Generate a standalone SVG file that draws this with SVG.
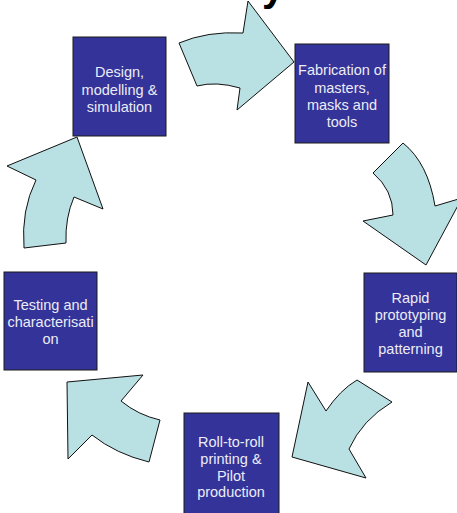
<svg xmlns="http://www.w3.org/2000/svg" width="457" height="513" viewBox="0 0 457 513">
<style>
.box{fill:#333399;stroke:#1a1a1a;stroke-width:1}
.lbl{font-family:"Liberation Sans",Arial,sans-serif;font-size:14.5px;fill:#ececf6;text-anchor:middle}
.arr{fill:#b9e0e3;stroke:#111;stroke-width:1;stroke-linejoin:miter}
</style>
<rect width="457" height="513" fill="#fff"/>
<text x="262" y="1" font-family="Liberation Sans,Arial,sans-serif" font-size="40" font-weight="bold" fill="#000">y</text>
<g id="connectors">
<path class="arr" d="M179,43 Q207,31 243,33 L248,1 L294,62 L237,110 L240,88 Q216,81 197,86 Z"/>
<path class="arr" d="M373,173 L403,143 Q428,163 435,206 L462,198 L426,265 L363,221 L393,215 Q393,190 373,173 Z"/>
<path class="arr" d="M308,382 L326,411 Q340,390 357,380 L392,402 Q362,420 349,449 L366,478 L292,457 Z"/>
<path class="arr" d="M67,382 L143,375 L121,401 Q138,415 160,420 L149,462 Q116,454 92,435 L68,459 Z"/>
<path class="arr" d="M77,137 L103,209 L74,197 Q65,218 66,243 L24,248 Q21,210 36,180 L7,166 Z"/>
</g>
<g id="design">
<rect class="box" x="73" y="37" width="93" height="99"/>
<text class="lbl" x="119.5" y="77">Design,</text>
<text class="lbl" x="119.5" y="94.5">modelling &amp;</text>
<text class="lbl" x="119.5" y="112">simulation</text>
</g>
<g id="fabrication">
<rect class="box" x="295" y="44" width="94" height="99"/>
<text class="lbl" x="342" y="75">Fabrication of</text>
<text class="lbl" x="342" y="92.5">masters,</text>
<text class="lbl" x="342" y="110">masks and</text>
<text class="lbl" x="342" y="127">tools</text>
</g>
<g id="rapid">
<rect class="box" x="364" y="273" width="93" height="99"/>
<text class="lbl" x="410.5" y="302.5">Rapid</text>
<text class="lbl" x="410.5" y="319.5">prototyping</text>
<text class="lbl" x="410.5" y="336.5">and</text>
<text class="lbl" x="410.5" y="353.5">patterning</text>
</g>
<g id="roll">
<rect class="box" x="184" y="413" width="95" height="105"/>
<text class="lbl" x="231" y="447">Roll-to-roll</text>
<text class="lbl" x="231" y="464">printing &amp;</text>
<text class="lbl" x="231" y="481">Pilot</text>
<text class="lbl" x="231" y="497">production</text>
</g>
<g id="testing">
<rect class="box" x="4" y="272" width="93" height="98"/>
<text class="lbl" x="50.5" y="309.5">Testing and</text>
<text class="lbl" x="50.5" y="327">characterisati</text>
<text class="lbl" x="50.5" y="344">on</text>
</g>
</svg>
